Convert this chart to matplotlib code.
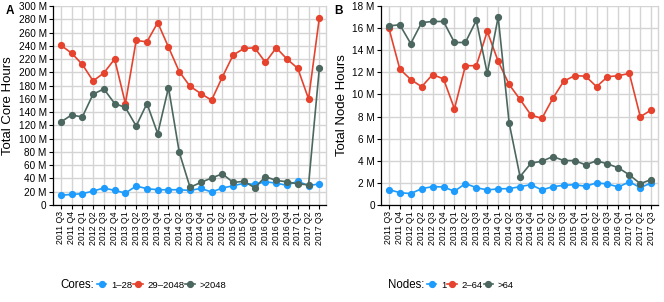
import matplotlib.pyplot as plt
from matplotlib.lines import Line2D
from matplotlib.ticker import FuncFormatter, MultipleLocator

plt.rcParams['font.family'] = ['Liberation Sans', 'DejaVu Sans']

quarters = ["2011 Q3", "2011 Q4", "2012 Q1", "2012 Q2", "2012 Q3", "2012 Q4",
            "2013 Q1", "2013 Q2", "2013 Q3", "2013 Q4", "2014 Q1", "2014 Q2",
            "2014 Q3", "2014 Q4", "2015 Q1", "2015 Q2", "2015 Q3", "2015 Q4",
            "2016 Q1", "2016 Q2", "2016 Q3", "2016 Q4", "2017 Q1", "2017 Q2",
            "2017 Q3"]

# Panel A: total core hours (millions) by job size in cores
cores_1_28 = [14.6, 16, 17, 21, 25.6, 22, 18, 28.6, 24.6, 23, 23, 23, 22,
              25, 19.6, 25.6, 29, 32.7, 31, 35, 33, 29.6, 36, 29, 32]
cores_29_2048 = [241, 229, 212, 187, 199, 220, 153, 248, 246, 275, 238, 201,
                 179, 168, 158, 193, 226, 236, 237, 215, 237, 220, 206, 160, 282]
cores_2048 = [125, 135.7, 132.7, 167, 175, 153, 147, 119, 153, 107.5, 177,
              79.4, 26.7, 34, 40.7, 47, 34, 35.7, 26, 42.7, 37, 35, 31.7, 30.6, 206]

# Panel B: total node hours (millions) by job size in nodes
nodes_1 = [1.39, 1.12, 1.03, 1.48, 1.66, 1.63, 1.24, 1.94, 1.57, 1.36, 1.46,
           1.48, 1.66, 1.84, 1.36, 1.66, 1.78, 1.84, 1.69, 2.0, 1.9, 1.63,
           2.09, 1.57, 2.0]
nodes_2_64 = [16.0, 12.3, 11.35, 10.7, 11.8, 11.4, 8.7, 12.6, 12.6, 15.7, 13.0,
              10.9, 9.55, 8.14, 7.83, 9.65, 11.2, 11.7, 11.65, 10.7, 11.6,
              11.7, 11.9, 7.98, 8.6]
nodes_64 = [16.2, 16.3, 14.6, 16.5, 16.6, 16.6, 14.7, 14.7, 16.7, 11.9, 17.0,
            7.44, 2.57, 3.78, 3.96, 4.38, 4.02, 4.02, 3.63, 4.0, 3.72, 3.36,
            2.72, 1.93, 2.3]

BLUE = '#1E9CFD'
RED = '#E5432E'
GREEN = '#4B675F'
GRID = '#d4d4d4'

W, H = 664, 302
fig = plt.figure(figsize=(W / 100, H / 100), dpi=100)


def setup(ax, ymax, step, xl):
    ax.set_xlim(-0.72, len(quarters) - 1 + 0.62)
    ax.set_ylim(0, ymax)
    ax.yaxis.set_major_locator(MultipleLocator(step))
    ax.yaxis.set_major_formatter(FuncFormatter(lambda v, p: '0' if v == 0 else f'{v:g} M'))
    ax.set_xticks(range(len(quarters)))
    ax.set_xticklabels(quarters, rotation=90, fontsize=6.3)
    ax.tick_params(axis='y', labelsize=7.2, length=3, width=0.8, pad=1.5)
    ax.tick_params(axis='x', length=3, width=0.8, pad=1.5)
    ax.grid(True, color=GRID, linewidth=1.0, zorder=0)
    ax.set_axisbelow(True)
    ax.spines['top'].set_visible(False)
    ax.spines['right'].set_color(GRID)
    ax.spines['right'].set_linewidth(1.0)
    ax.spines['left'].set_linewidth(0.9)
    ax.spines['bottom'].set_linewidth(0.9)
    ax.set_ylabel(xl, fontsize=9.5, labelpad=3)


def series(ax, vals, color):
    ax.plot(range(len(vals)), vals, color=color, lw=1.2, marker='o', ms=4.2, zorder=3)


axA = fig.add_axes([53 / W, 1 - 205 / H, (326 - 53) / W, (205 - 6) / H])
setup(axA, 300, 20, 'Total Core Hours')
series(axA, cores_1_28, BLUE)
series(axA, cores_29_2048, RED)
series(axA, cores_2048, GREEN)

axB = fig.add_axes([381 / W, 1 - 205 / H, (658 - 381) / W, (205 - 6) / H])
setup(axB, 18, 2, 'Total Node Hours')
series(axB, nodes_1, BLUE)
series(axB, nodes_2_64, RED)
series(axB, nodes_64, GREEN)

fig.text(6 / W, 1 - 11 / H, 'A', fontsize=8.5, fontweight='bold', va='center')
fig.text(334 / W, 1 - 11 / H, 'B', fontsize=8.5, fontweight='bold', va='center')


def legend(ax, title, tx, lx, labels):
    fig.text(tx / W, 1 - 285 / H, title, fontsize=8.3, va='center')
    handles = [Line2D([], [], color=c, lw=1.2, marker='o', ms=4.2) for c in (BLUE, RED, GREEN)]
    ax.legend(handles, labels, loc='center left', bbox_to_anchor=(lx / W, 1 - 285 / H),
              bbox_transform=fig.transFigure, ncol=3, frameon=False, fontsize=6.8,
              handlelength=1.0, handletextpad=0.5, columnspacing=0.1, borderpad=0,
              borderaxespad=0)


legend(axA, 'Cores:', 60, 97, ['1–28', '29–2048', '>2048'])
legend(axB, 'Nodes:', 388, 427, ['1', '2–64', '>64'])

fig.savefig('out.png', dpi=100)
